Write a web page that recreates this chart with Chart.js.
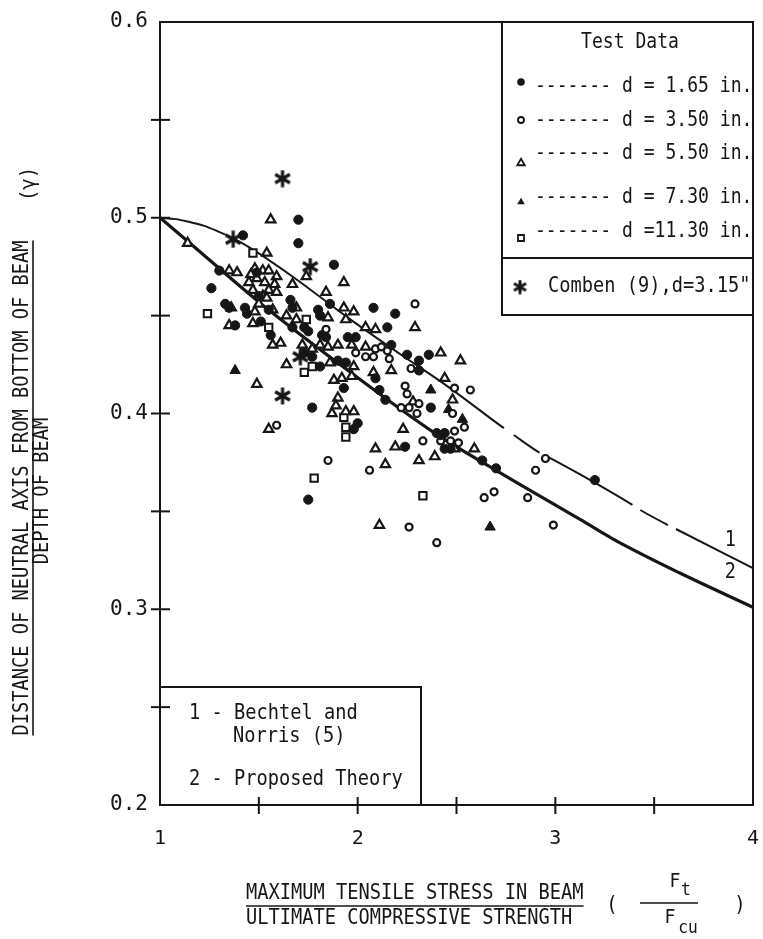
<!DOCTYPE html>
<html>
<head>
<meta charset="utf-8">
<script src="https://cdn.jsdelivr.net/npm/chart.js@4.4.1/dist/chart.umd.min.js"></script>
<style>
html,body{margin:0;padding:0;background:#fff;}
canvas{display:block;}
</style>
</head>
<body>
<canvas id="c" width="763" height="939"></canvas>
<script>
const INK = '#161616';

// ---- axes ----
const xRange = [1, 4];
const yRange = [0.2, 0.6];
const xTickValues = [1, 2, 3, 4];
const xTickLabels = ['1', '2', '3', '4'];
const yTickValues = [0.2, 0.3, 0.4, 0.5, 0.6];
const yTickLabels = ['0.2', '0.3', '0.4', '0.5', '0.6'];

// ---- test data, d = 1.65 in. (filled circles) ----
const d165X = [1.70,1.42,1.70,1.88,1.30,1.49,1.26,1.66,1.50,1.33,1.35,1.43,1.44,1.55,1.67,1.38,1.51,1.56,1.86,2.08,2.19,1.80,1.81,2.15,1.67,1.73,1.75,1.82,1.84,1.95,1.99,2.17,2.25,2.36,1.73,1.77,1.81,1.90,1.94,1.93,1.77,2.09,2.11,2.14,2.31,2.31,2.37,2.40,2.44,2.42,2.44,2.47,2.63,2.70,2.24,2.00,1.98,3.20,1.75];
const d165Y = [0.499,0.491,0.487,0.476,0.473,0.472,0.464,0.458,0.460,0.456,0.454,0.454,0.451,0.453,0.454,0.445,0.447,0.440,0.456,0.454,0.451,0.453,0.450,0.444,0.444,0.444,0.442,0.440,0.439,0.439,0.439,0.435,0.430,0.430,0.431,0.429,0.424,0.427,0.426,0.413,0.403,0.418,0.412,0.407,0.427,0.422,0.403,0.390,0.390,0.389,0.382,0.382,0.376,0.372,0.383,0.395,0.392,0.366,0.356];

// ---- d = 3.50 in. (open circles) ----
const d350X = [2.29,1.84,1.99,2.04,2.08,2.09,2.12,2.15,2.16,2.24,2.25,2.27,2.31,2.22,2.26,2.30,2.49,2.57,2.48,2.54,2.49,2.42,2.47,2.51,2.33,1.59,1.85,2.06,2.90,2.95,2.64,2.69,2.86,2.26,2.99,2.40];
const d350Y = [0.456,0.443,0.431,0.429,0.429,0.433,0.434,0.432,0.428,0.414,0.410,0.423,0.405,0.403,0.403,0.400,0.413,0.412,0.400,0.393,0.391,0.386,0.386,0.385,0.386,0.394,0.376,0.371,0.371,0.377,0.357,0.360,0.357,0.342,0.343,0.334];

// ---- d = 5.50 in. (open triangles) ----
const d550X = [1.14,1.54,1.56,1.74,1.67,1.35,1.39,1.48,1.52,1.55,1.59,1.46,1.49,1.45,1.53,1.58,1.47,1.55,1.59,1.52,1.54,1.36,1.48,1.50,1.57,1.35,1.47,1.61,1.57,1.64,1.69,1.64,
  1.93,1.84,1.93,1.98,1.85,1.94,1.69,2.29,2.04,2.09,
  1.72,1.77,1.81,1.85,1.90,1.97,2.04,
  2.42,2.52,1.86,1.98,2.08,2.17,1.49,
  1.88,1.92,1.97,1.90,1.89,1.87,1.94,1.98,
  2.44,2.48,2.28,2.23,2.09,2.19,2.31,2.39,2.49,2.59,2.14,2.11,1.55];
const d550Y = [0.487,0.482,0.499,0.470,0.466,0.473,0.472,0.474,0.473,0.473,0.470,0.471,0.469,0.467,0.467,0.466,0.463,0.463,0.462,0.460,0.459,0.454,0.452,0.456,0.453,0.445,0.446,0.436,0.435,0.450,0.454,0.425,
  0.467,0.462,0.454,0.452,0.449,0.448,0.448,0.444,0.444,0.443,
  0.435,0.433,0.435,0.434,0.435,0.435,0.434,
  0.431,0.427,0.426,0.424,0.421,0.422,0.415,
  0.417,0.418,0.419,0.408,0.404,0.400,0.401,0.401,
  0.418,0.407,0.406,0.392,0.382,0.383,0.376,0.378,0.382,0.382,0.374,0.343,0.392];

// ---- d = 7.30 in. (filled triangles) ----
const d730X = [1.38,2.53,2.67,2.37,2.46];
const d730Y = [0.422,0.397,0.342,0.412,0.402];

// ---- d = 11.30 in. (open squares) ----
const d1130X = [1.47,1.24,1.55,1.73,1.77,1.74,1.93,1.94,1.94,1.78,2.33];
const d1130Y = [0.482,0.451,0.444,0.421,0.424,0.448,0.398,0.393,0.388,0.367,0.358];

// ---- Comben (9), d = 3.15" (asterisks) ----
const combenX = [1.62,1.37,1.76,1.71,1.62];
const combenY = [0.520,0.489,0.475,0.429,0.409];

// ---- curve 1: Bechtel and Norris (5) ----
const curve1X = [1.00,1.08,1.15,1.22,1.29,1.37,1.45,1.67,1.95,2.22,2.46,2.74,2.79,2.92,2.95,3.13,3.39,3.43,3.57,3.61,4.00];
const curve1Y = [0.500,0.4993,0.4978,0.4960,0.4932,0.4895,0.4850,0.470,0.449,0.430,0.4135,0.3925,0.389,0.380,0.3785,0.3686,0.3533,0.3507,0.343,0.341,0.321];
const curve1Gaps = [[2.74,2.79],[2.92,2.95],[3.39,3.43],[3.57,3.61]];

// ---- curve 2: Proposed Theory ----
const curve2X = [1.00,1.14,1.50,1.955,2.39,2.70,3.13,3.29,3.63,4.00];
const curve2Y = [0.500,0.488,0.457,0.4217,0.390,0.371,0.3456,0.336,0.3185,0.301];

// ---- curve labels ----
const curveLabelText = ['1','2'];
const curveLabelX = [3.885,3.885];
const curveLabelY = [0.335,0.3185];

// ---- texts ----
const legendTitle = 'Test Data';
const legendRows = ['------- d = 1.65 in.','------- d = 3.50 in.','------- d = 5.50 in.','------- d = 7.30 in.','------- d =11.30 in.'];
const legendStyles = ['fcircle','ocircle','otri','ftri','osquare'];
const combenLabel = 'Comben (9),d=3.15"';
const theoryLegend = ['1 - Bechtel and','Norris (5)','2 - Proposed Theory'];
const xTitle = ['MAXIMUM TENSILE STRESS IN BEAM','ULTIMATE COMPRESSIVE STRENGTH'];
const yTitle = ['DISTANCE OF NEUTRAL AXIS FROM BOTTOM OF BEAM','DEPTH OF BEAM','(\u03B3)'];

const pts = (xs, ys) => xs.map((x, i) => ({x: x, y: ys[i]}));

function makeAsterisk(size, lw) {
  const c = document.createElement('canvas');
  c.width = size; c.height = size;
  const g = c.getContext('2d');
  g.strokeStyle = INK; g.lineWidth = lw;
  const r = size / 2 - 0.5;
  for (let k = 0; k < 3; k++) {
    const a = Math.PI / 2 + k * Math.PI / 3;
    g.beginPath();
    g.moveTo(size / 2 + r * Math.cos(a), size / 2 + r * Math.sin(a));
    g.lineTo(size / 2 - r * Math.cos(a), size / 2 - r * Math.sin(a));
    g.stroke();
  }
  return c;
}
const asterisk = makeAsterisk(18, 3.2);
const asteriskSmall = makeAsterisk(15, 3);

function inGap(p0, p1) {
  return curve1Gaps.some(g => Math.abs(p0 - g[0]) < 1e-6 && Math.abs(p1 - g[1]) < 1e-6);
}

function txt(ctx, s, x, y, o) {
  o = o || {};
  const size = o.size || 20, sx = o.sx || 0.9;
  ctx.save();
  ctx.translate(x, y);
  if (o.rot) ctx.rotate(o.rot);
  ctx.scale(sx, 1);
  ctx.font = size + 'px "DejaVu Sans Mono"';
  ctx.textAlign = o.align || 'left';
  ctx.textBaseline = 'middle';
  ctx.fillStyle = INK;
  ctx.fillText(s, 0, 0);
  const w = ctx.measureText(s).width * sx;
  ctx.restore();
  return w;
}
function seg(ctx, x1, y1, x2, y2, lw) {
  ctx.lineWidth = lw;
  ctx.beginPath(); ctx.moveTo(x1, y1); ctx.lineTo(x2, y2); ctx.stroke();
}
function marker(ctx, style, x, y, r) {
  ctx.save();
  ctx.fillStyle = INK; ctx.strokeStyle = INK; ctx.lineWidth = 1.8;
  ctx.beginPath();
  if (style === 'fcircle') { ctx.arc(x, y, r, 0, Math.PI * 2); ctx.fill(); }
  else if (style === 'ocircle') { ctx.arc(x, y, r - 0.8, 0, Math.PI * 2); ctx.stroke(); }
  else if (style === 'otri' || style === 'ftri') {
    const h = r * 1.7;
    ctx.moveTo(x, y - h / 2); ctx.lineTo(x + h / 1.7, y + h / 2); ctx.lineTo(x - h / 1.7, y + h / 2); ctx.closePath();
    if (style === 'ftri') ctx.fill(); else ctx.stroke();
  } else if (style === 'osquare') { ctx.rect(x - r + 0.8, y - r + 0.8, 2 * r - 1.6, 2 * r - 1.6); ctx.stroke(); }
  ctx.restore();
}

const decor = {
  id: 'decor',
  afterDraw(chart) {
    const ctx = chart.ctx, a = chart.chartArea;
    const xs = chart.scales.x, ys = chart.scales.y;
    ctx.save();
    ctx.strokeStyle = INK; ctx.fillStyle = INK;

    // frame
    ctx.lineWidth = 2;
    ctx.strokeRect(a.left, a.top, a.right - a.left, a.bottom - a.top);

    // crossing tick marks
    xs.ticks.forEach(t => {
      if (t.value <= xs.min + 1e-9 || t.value >= xs.max - 1e-9) return;
      const px = xs.getPixelForValue(t.value);
      seg(ctx, px, a.bottom - 8, px, a.bottom + 9, 2);
    });
    ys.ticks.forEach(t => {
      if (t.value <= ys.min + 1e-9 || t.value >= ys.max - 1e-9) return;
      const py = ys.getPixelForValue(t.value);
      seg(ctx, a.left - 9, py, a.left + 10, py, 2);
    });

    // curve labels
    curveLabelText.forEach((s, i) => {
      txt(ctx, s, xs.getPixelForValue(curveLabelX[i]), ys.getPixelForValue(curveLabelY[i]), {size: 21, sx: 0.88, align: 'center'});
    });

    // top-right legend box
    const L = 502, T = a.top, R = a.right, B = 315, D = 258;
    ctx.fillStyle = '#fff';
    ctx.fillRect(L, T, R - L, B - T);
    ctx.fillStyle = INK;
    ctx.lineWidth = 2;
    ctx.strokeRect(L, T, R - L, B - T);
    seg(ctx, L, D, R, D, 2);
    txt(ctx, legendTitle, 630, 43, {size: 21, sx: 0.86, align: 'center'});
    const rowTextY = [87, 121, 154, 198, 232];
    const rowMarkY = [82, 120, 162, 201, 238];
    legendRows.forEach((s, i) => {
      marker(ctx, legendStyles[i], 521, rowMarkY[i], 3.8);
      txt(ctx, s, 535, rowTextY[i], {size: 21, sx: 0.86});
    });
    ctx.drawImage(asteriskSmall, 520 - 7.5, 287 - 7.5);
    txt(ctx, combenLabel, 548, 287, {size: 21, sx: 0.89});

    // lower-left legend box
    const L2 = a.left, T2 = 687, R2 = 421, B2 = a.bottom;
    ctx.lineWidth = 2;
    ctx.strokeRect(L2, T2, R2 - L2, B2 - T2);
    txt(ctx, theoryLegend[0], 189, 714, {size: 21, sx: 0.89});
    txt(ctx, theoryLegend[1], 233, 737, {size: 21, sx: 0.89});
    txt(ctx, theoryLegend[2], 189, 780, {size: 21, sx: 0.89});

    // x-axis title
    ctx.strokeStyle = INK;
    const w1 = txt(ctx, xTitle[0], 246, 894, {size: 21, sx: 0.89});
    seg(ctx, 246, 906, 246 + w1, 906, 1.6);
    txt(ctx, xTitle[1], 246, 919, {size: 21, sx: 0.89});
    txt(ctx, '(', 612, 906, {size: 21, sx: 0.9, align: 'center'});
    txt(ctx, 'F', 675, 882, {size: 20, sx: 0.9, align: 'center'});
    txt(ctx, 't', 686, 890, {size: 18, sx: 0.9, align: 'center'});
    seg(ctx, 640, 903, 698, 903, 1.6);
    txt(ctx, 'F', 670, 918, {size: 20, sx: 0.9, align: 'center'});
    txt(ctx, 'cu', 688, 928, {size: 18, sx: 0.9, align: 'center'});
    txt(ctx, ')', 740, 906, {size: 21, sx: 0.9, align: 'center'});

    // y-axis title (rotated)
    ctx.save();
    ctx.translate(23, 488);
    ctx.rotate(-Math.PI / 2);
    const wy = txt(ctx, yTitle[0], 0, 0, {size: 21, sx: 0.89, align: 'center'});
    seg(ctx, -wy / 2, 10, wy / 2, 10, 1.6);
    txt(ctx, yTitle[1], -3, 20, {size: 21, sx: 0.89, align: 'center'});
    txt(ctx, yTitle[2], 304, 7, {size: 21, sx: 0.9, align: 'center'});
    ctx.restore();

    ctx.restore();
  }
};

function tickLabel(values, labels) {
  return function (v) {
    const i = values.findIndex(t => Math.abs(t - v) < 1e-6);
    return i >= 0 ? labels[i] : '';
  };
}

new Chart(document.getElementById('c'), {
  type: 'scatter',
  data: {
    datasets: [
      {label: 'Bechtel and Norris (5)', data: pts(curve1X, curve1Y), showLine: true, borderColor: INK, borderWidth: 2,
       pointRadius: 0, fill: false, cubicInterpolationMode: 'monotone', order: 10,
       segment: {borderColor: c => inGap(c.p0.parsed.x, c.p1.parsed.x) ? 'rgba(0,0,0,0)' : INK}},
      {label: 'Proposed Theory', data: pts(curve2X, curve2Y), showLine: true, borderColor: INK, borderWidth: 3.2,
       pointRadius: 0, fill: false, cubicInterpolationMode: 'monotone', order: 10},
      {label: 'd = 1.65 in.', data: pts(d165X, d165Y), pointStyle: 'circle', pointRadius: 4.6, pointBorderWidth: 1,
       pointBackgroundColor: INK, pointBorderColor: INK, order: 1},
      {label: 'd = 3.50 in.', data: pts(d350X, d350Y), pointStyle: 'circle', pointRadius: 3.5, pointBorderWidth: 2.2,
       pointBackgroundColor: '#fff', pointBorderColor: INK, order: 1},
      {label: 'd = 5.50 in.', data: pts(d550X, d550Y), pointStyle: 'triangle', pointRadius: 5.4, pointBorderWidth: 2.2,
       pointBackgroundColor: '#fff', pointBorderColor: INK, order: 1},
      {label: 'd = 7.30 in.', data: pts(d730X, d730Y), pointStyle: 'triangle', pointRadius: 6, pointBorderWidth: 1,
       pointBackgroundColor: INK, pointBorderColor: INK, order: 1},
      {label: 'd = 11.30 in.', data: pts(d1130X, d1130Y), pointStyle: 'rect', pointRadius: 5.2, pointBorderWidth: 2,
       pointBackgroundColor: '#fff', pointBorderColor: INK, order: 1},
      {label: 'Comben (9), d = 3.15"', data: pts(combenX, combenY), pointStyle: asterisk, pointRadius: 9, order: 0}
    ]
  },
  options: {
    responsive: false,
    animation: false,
    devicePixelRatio: 1,
    events: [],
    layout: {padding: {left: 0, right: 6, top: 22, bottom: 0}},
    plugins: {legend: {display: false}, tooltip: {enabled: false}, title: {display: false}},
    scales: {
      x: {
        type: 'linear', min: xRange[0], max: xRange[1],
        grid: {display: true, drawOnChartArea: false, drawTicks: false},
        border: {display: false},
        ticks: {stepSize: 0.5, autoSkip: false, maxRotation: 0, padding: 22, color: INK,
                font: {family: 'DejaVu Sans Mono', size: 20},
                callback: tickLabel(xTickValues, xTickLabels)},
        afterFit: s => { s.height = 134; s.paddingLeft = 0; s.paddingRight = 0; }
      },
      y: {
        type: 'linear', min: yRange[0], max: yRange[1],
        grid: {display: true, drawOnChartArea: false, drawTicks: false},
        border: {display: false},
        ticks: {stepSize: 0.05, autoSkip: false, padding: 12, color: INK,
                font: {family: 'DejaVu Sans Mono', size: 21},
                callback: tickLabel(yTickValues, yTickLabels)},
        afterFit: s => { s.width = 160; s.paddingTop = 0; s.paddingBottom = 0; }
      }
    }
  },
  plugins: [decor]
});
</script>
</body>
</html>
